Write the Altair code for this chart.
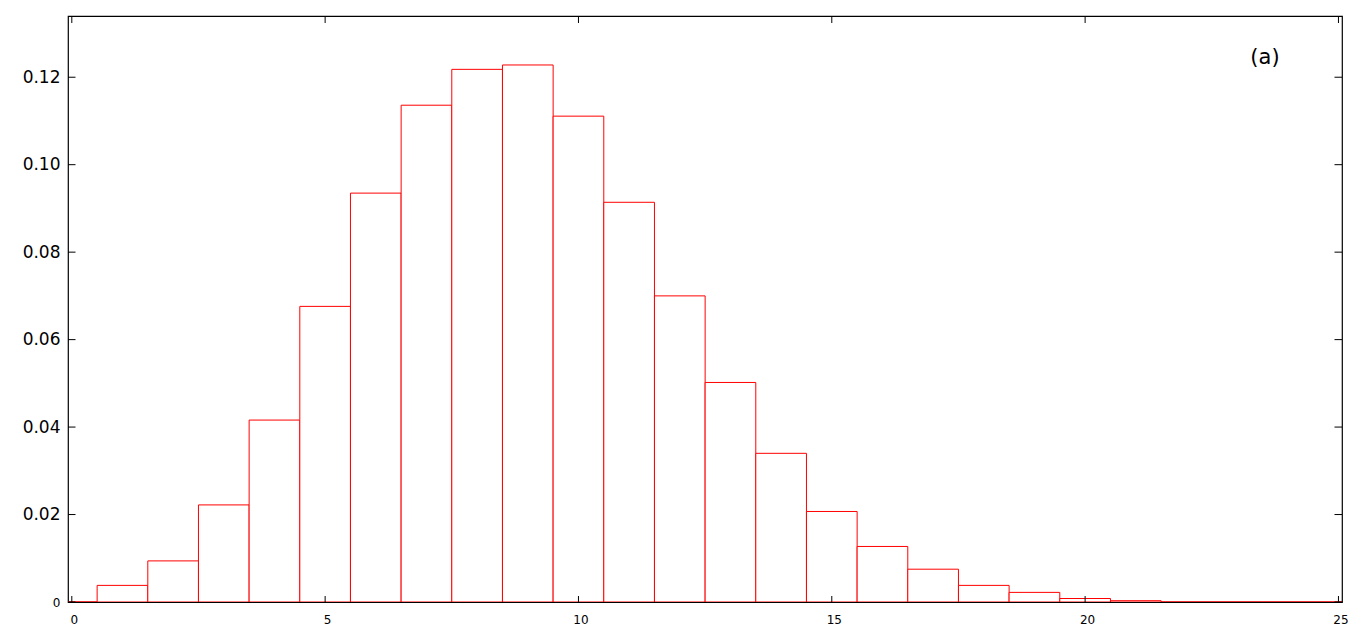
import altair as alt
import pandas as pd

# Histogram bins (centres) and heights
centers = [0, 1, 2, 3, 4, 5, 6, 7, 8, 9, 10, 11, 12, 13, 14, 15, 16, 17, 18, 19, 20, 21, 22, 23, 24, 25]
heights = [0.0, 0.0038, 0.0094, 0.0222, 0.0416, 0.0676, 0.0935, 0.1136, 0.1218, 0.1228,
           0.1111, 0.0914, 0.0700, 0.0502, 0.0340, 0.0207, 0.0127, 0.0075, 0.0038, 0.0022,
           0.0008, 0.0003, 0.0, 0.0, 0.0, 0.0]

x_ticks = [0, 5, 10, 15, 20, 25]
y_ticks = [0.0, 0.02, 0.04, 0.06, 0.08, 0.10, 0.12]

label_text = ["(a)"]
label_x = [23.55]
label_y = [0.1244]

W, H = 1274, 586
FONT = "DejaVu Sans"

bars_df = pd.DataFrame({"c": centers, "v": heights})
xt_df = pd.DataFrame({"t": x_ticks})
yt_df = pd.DataFrame({"t": y_ticks})
lab_df = pd.DataFrame({"txt": label_text, "x": label_x, "y": label_y})

xscale = alt.Scale(domain=[-0.075, 25.07], nice=False, zero=False)
yscale = alt.Scale(domain=[0, 0.1340], nice=False, zero=False)

bars = alt.Chart(bars_df).transform_calculate(
    x0="datum.c - 0.5", x1="datum.c + 0.5"
).mark_rect(fill="white", stroke="#ff0000", strokeWidth=1, clip=True).encode(
    x=alt.X("x0:Q", scale=xscale, title=None,
            axis=alt.Axis(values=x_ticks, tickSize=0, domain=False, grid=False,
                          labelFontSize=12, labelFont=FONT, labelColor="black",
                          labelPadding=12, labelOffset=2, format="d")),
    x2="x1:Q",
    y=alt.Y("v:Q", scale=yscale, title=None,
            axis=alt.Axis(values=y_ticks, tickSize=0, domain=False, grid=False,
                          labelFont=FONT, labelColor="black", labelPadding=8,
                          labelFontSize={"condition": {"test": "datum.value == 0", "value": 12}, "value": 17},
                          labelExpr="datum.value == 0 ? '0' : format(datum.value, '.2f')")),
    y2=alt.datum(0),
)

xt_bottom = alt.Chart(xt_df).mark_rule(color="black", strokeWidth=1).encode(
    x=alt.X("t:Q", scale=xscale), y=alt.value(H), y2=alt.value(H - 6))
xt_top = alt.Chart(xt_df).mark_rule(color="black", strokeWidth=1).encode(
    x=alt.X("t:Q", scale=xscale), y=alt.value(0), y2=alt.value(7))
yt_left = alt.Chart(yt_df).mark_rule(color="black", strokeWidth=1).encode(
    y=alt.Y("t:Q", scale=yscale), x=alt.value(0), x2=alt.value(7.5))
yt_right = alt.Chart(yt_df).mark_rule(color="black", strokeWidth=1).encode(
    y=alt.Y("t:Q", scale=yscale), x=alt.value(W), x2=alt.value(W - 7.5))

label = alt.Chart(lab_df).mark_text(font=FONT, fontSize=21, color="black").encode(
    x=alt.X("x:Q", scale=xscale), y=alt.Y("y:Q", scale=yscale), text="txt:N")

chart = alt.layer(bars, xt_bottom, xt_top, yt_left, yt_right, label).properties(
    width=W, height=H,
    autosize=alt.AutoSizeParams(type="none"),
    padding={"left": 60, "top": 8, "right": 16, "bottom": 30},
    background="white",
).configure_view(stroke="black", strokeWidth=1.2)

chart.save("out.html", embed_options={"renderer": "svg", "actions": False})
